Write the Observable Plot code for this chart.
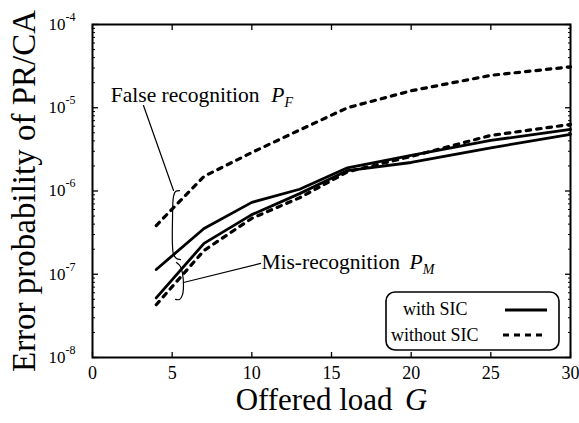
<!DOCTYPE html>
<html><head><meta charset="utf-8">
<script src="https://cdn.jsdelivr.net/npm/d3@7"></script>
<script src="https://cdn.jsdelivr.net/npm/@observablehq/plot@0.6"></script>
<style>
body{margin:0;background:#fff;}
#wrap{position:relative;width:579px;height:423px;overflow:hidden;}
#legend{position:absolute;left:385px;top:291px;}
</style></head><body><div id="wrap"></div>
<script>
// Offered load G (x values)
const G = [4, 7, 10, 13, 16, 20, 25, 30];
// False recognition P_F
const pfWithSIC    = [1.14e-7, 3.55e-7, 7.3e-7, 1.05e-6, 1.9e-6, 2.67e-6, 4.05e-6, 5.5e-6];
const pfWithoutSIC = [3.85e-7, 1.5e-6, 2.9e-6, 5.4e-6, 1.0e-5, 1.6e-5, 2.45e-5, 3.1e-5];
// Mis-recognition P_M
const pmWithSIC    = [5.2e-8, 2.35e-7, 5.2e-7, 9.3e-7, 1.76e-6, 2.2e-6, 3.3e-6, 4.8e-6];
const pmWithoutSIC = [4.3e-8, 1.93e-7, 4.7e-7, 8.3e-7, 1.7e-6, 2.6e-6, 4.65e-6, 6.3e-6];

const xTicks = [0, 5, 10, 15, 20, 25, 30];
const yMajor = [1e-8, 1e-7, 1e-6, 1e-5, 1e-4];
const yMinor = [];
for (let e = -8; e < -4; e++) for (let m = 2; m <= 9; m++) yMinor.push(m * Math.pow(10, e));

const legendLabels = ["with SIC", "without SIC"];

// annotation guide strokes (data coordinates)
const pfLeader = [{G: 3.2, p: 1.064e-5}, {G: 5.085, p: 1.014e-6}];
const pfBracket = [
  {G: 5.46, p: 1.01e-6}, {G: 5.21, p: 9.86e-7}, {G: 5.085, p: 8.6e-7}, {G: 5.02, p: 4.43e-7},
  {G: 5.02, p: 2.21e-7}, {G: 5.085, p: 1.73e-7}, {G: 5.27, p: 1.55e-7}, {G: 5.52, p: 1.5e-7}
];
const pmLeader = [{G: 5.71, p: 7.96e-8}, {G: 10.55, p: 1.35e-7}];
const pmBracket = [
  {G: 5.27, p: 1.38e-7}, {G: 5.52, p: 1.24e-7}, {G: 5.65, p: 1.02e-7}, {G: 5.71, p: 7.3e-8},
  {G: 5.65, p: 5.7e-8}, {G: 5.46, p: 4.98e-8}, {G: 5.21, p: 4.98e-8}
];

const toRows = arr => G.map((g, i) => ({G: g, p: arr[i]}));

const solid = {x: "G", y: "p", stroke: "#000", strokeWidth: 2.8, strokeLinejoin: "round"};
const dashed = {x: "G", y: "p", stroke: "#000", strokeWidth: 3.2, strokeDasharray: "4.5,6"};
const thin = {x: "G", y: "p", stroke: "#000", strokeWidth: 1.2, curve: "catmull-rom"};

const svg = Plot.plot({
  width: 579, height: 423,
  marginLeft: 92, marginRight: 9, marginTop: 24, marginBottom: 66,
  style: {fontFamily: "'Liberation Serif', 'Times New Roman', serif", background: "#fff", color: "#000"},
  x: {domain: [0, 30]},
  y: {type: "log", domain: [1e-8, 1e-4]},
  marks: [
    Plot.axisX({anchor: "bottom", ticks: xTicks, tickSize: -5, tickFormat: () => "", label: null, strokeWidth: 1.3}),
    Plot.axisX({anchor: "top", ticks: xTicks, tickSize: -5, tickFormat: () => "", label: null, strokeWidth: 1.3}),
    Plot.axisX({anchor: "bottom", ticks: xTicks, tickSize: 0, tickPadding: 9, fontSize: 18, label: null}),
    Plot.axisY({anchor: "left", ticks: yMinor, tickSize: -3, tickFormat: () => "", label: null}),
    Plot.axisY({anchor: "right", ticks: yMinor, tickSize: -3, tickFormat: () => "", label: null}),
    Plot.axisY({anchor: "left", ticks: yMajor, tickSize: -6, tickFormat: () => "", label: null, strokeWidth: 1.3}),
    Plot.axisY({anchor: "right", ticks: yMajor, tickSize: -6, tickFormat: () => "", label: null, strokeWidth: 1.3}),
    Plot.axisY({anchor: "left", ticks: yMajor, tickSize: 0, tickPadding: 17, fontSize: 17, label: null,
      tickFormat: d => "10^" + Math.round(Math.log10(d))}),
    Plot.frame({stroke: "#000", strokeWidth: 2}),
    Plot.line(toRows(pfWithoutSIC), dashed),
    Plot.line(toRows(pmWithoutSIC), dashed),
    Plot.line(toRows(pfWithSIC), solid),
    Plot.line(toRows(pmWithSIC), solid),
    Plot.line(pfLeader, {x: "G", y: "p", stroke: "#000", strokeWidth: 1.2}),
    Plot.line(pfBracket, thin),
    Plot.line(pmLeader, {x: "G", y: "p", stroke: "#000", strokeWidth: 1.2}),
    Plot.line(pmBracket, thin),
    Plot.text(["False recognition"], {x: 1.15, y: 1.4e-5, text: d => d, textAnchor: "start", fontSize: 21.5}),
    Plot.text(["Mis-recognition"], {x: 10.6, y: 1.38e-7, text: d => d, textAnchor: "start", fontSize: 21.5}),
    Plot.text(["Error probability of PR/CA"], {frameAnchor: "left", dx: -68, rotate: -90, textAnchor: "middle", lineAnchor: "middle", text: d => d, fontSize: 33}),
    Plot.text(["Offered load G"], {frameAnchor: "bottom", dy: 52, textAnchor: "middle", text: d => d, fontSize: 31})
  ]
});

// rich text: superscripts, italics, subscripts
d3.select(svg).selectAll("text").each(function () {
  const s = this.textContent;
  const t = d3.select(this);
  let m;
  if ((m = /^10\^(-?\d+)$/.exec(s))) {
    t.text("10");
    t.append("tspan").attr("dy", "-9").attr("font-size", 12).text(m[1]);
  } else if (s === "Offered load G") {
    t.text("Offered load ");
    t.append("tspan").attr("dx", "0.15em").attr("font-style", "italic").text("G");
  } else if (s === "False recognition") {
    t.text("False recognition");
    t.append("tspan").attr("dx", "0.55em").attr("font-style", "italic").text("P");
    t.append("tspan").attr("dy", 5).attr("font-size", 14).attr("font-style", "italic").text("F");
  } else if (s === "Mis-recognition") {
    t.text("Mis-recognition");
    t.append("tspan").attr("dx", "0.45em").attr("font-style", "italic").text("P");
    t.append("tspan").attr("dy", 5).attr("font-size", 14).attr("font-style", "italic").text("M");
  }
});

const wrap = document.getElementById("wrap");
wrap.appendChild(svg);

// legend box (HTML overlay with inline SVG)
const lg = d3.select(wrap).append("svg").attr("id", "legend")
  .attr("width", 176).attr("height", 62)
  .style("font-family", "'Liberation Serif', 'Times New Roman', serif");
lg.append("rect").attr("x", 1).attr("y", 1).attr("width", 173).attr("height", 58)
  .attr("rx", 9).attr("fill", "#fff").attr("stroke", "#000").attr("stroke-width", 1.6);
lg.append("text").attr("x", 18).attr("y", 24).attr("font-size", 18).text(legendLabels[0]);
lg.append("text").attr("x", 6).attr("y", 50).attr("font-size", 18).text(legendLabels[1]);
lg.append("line").attr("x1", 120).attr("x2", 162).attr("y1", 19).attr("y2", 19)
  .attr("stroke", "#000").attr("stroke-width", 2.8);
lg.append("line").attr("x1", 118).attr("x2", 162).attr("y1", 44).attr("y2", 44)
  .attr("stroke", "#000").attr("stroke-width", 3.2).attr("stroke-dasharray", "6,5");
</script>
</body></html>
